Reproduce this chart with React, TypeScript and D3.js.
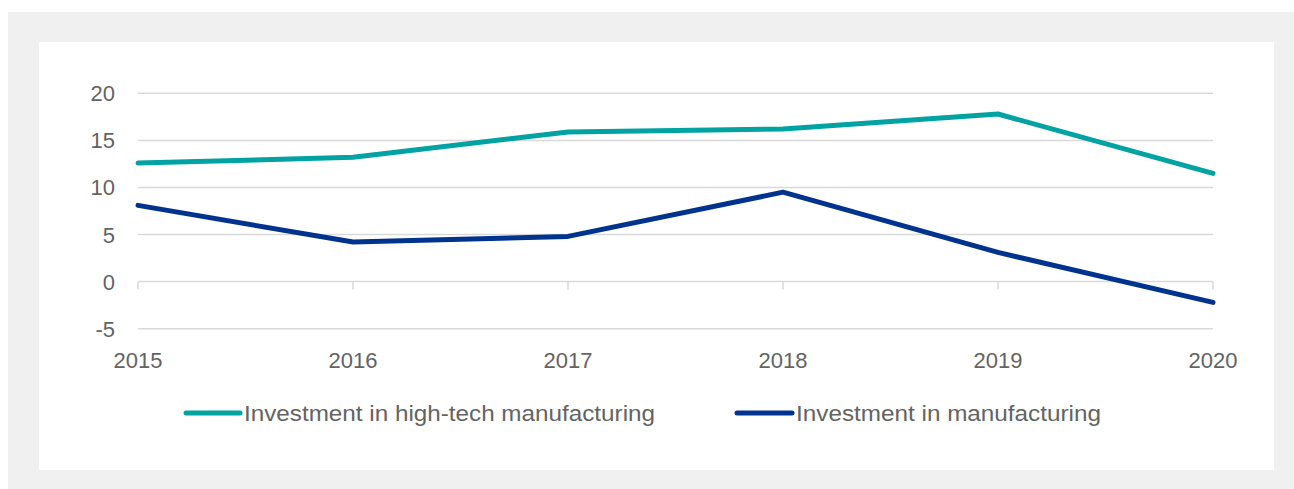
import React from "react";
import * as d3 from "d3";

const years = ["2015", "2016", "2017", "2018", "2019", "2020"];
const highTech = [12.6, 13.2, 15.9, 16.2, 17.8, 11.5];
const manufacturing = [8.1, 4.2, 4.8, 9.5, 3.1, -2.2];
const yTicks = [-5, 0, 5, 10, 15, 20];
const seriesNames = ["Investment in high-tech manufacturing", "Investment in manufacturing"];
const seriesColors = ["#00a3a1", "#00338d"];

export default function App() {
  const W = 1294, H = 489;
  const x = d3.scalePoint<string>().domain(years).range([138, 1213]);
  const y = d3.scaleLinear().domain([-5, 20]).range([328.7, 93.3]);
  const line = d3.line<number>().x((_, i) => x(years[i])!).y((d) => y(d));
  const series = [highTech, manufacturing];
  const font = "'Liberation Sans', Arial, sans-serif";
  const textColor = "#636363";
  const legend = [
    { x0: 186, x1: 240, tx: 244, tw: 411 },
    { x0: 737, x1: 792, tx: 796, tw: 305 },
  ];
  return (
    <svg width={W} height={H} style={{ position: "absolute", left: 0, top: 0 }} fontFamily={font}>
      <rect x={0} y={0} width={W} height={H} fill="#fff" />
      <rect x={8} y={12} width={W - 8} height={H - 12} fill="#f0f0f0" />
      <rect x={39} y={42} width={1235} height={428} fill="#fff" />
      {yTicks.map((t) => (
        <g key={t}>
          <line x1={138} x2={1213} y1={y(t)} y2={y(t)} stroke="#d9d9d9" strokeWidth={1.5} />
          <text x={115} y={y(t) + 8} textAnchor="end" fontSize={22} fill={textColor}>
            {t}
          </text>
        </g>
      ))}
      {years.map((yr) => (
        <g key={yr}>
          <line x1={x(yr)} x2={x(yr)} y1={y(0)} y2={y(0) + 8} stroke="#d9d9d9" strokeWidth={1.5} />
          <text x={x(yr)} y={368} textAnchor="middle" fontSize={22} fill={textColor}>
            {yr}
          </text>
        </g>
      ))}
      {series.map((s, i) => (
        <path key={i} d={line(s)!} fill="none" stroke={seriesColors[i]} strokeWidth={5} strokeLinejoin="round" strokeLinecap="round" />
      ))}
      {legend.map((l, i) => (
        <g key={i}>
          <line x1={l.x0} x2={l.x1} y1={413} y2={413} stroke={seriesColors[i]} strokeWidth={5} strokeLinecap="round" />
          <text x={l.tx} y={421} fontSize={22} fill={textColor} textLength={l.tw} lengthAdjust="spacingAndGlyphs">
            {seriesNames[i]}
          </text>
        </g>
      ))}
    </svg>
  );
}
